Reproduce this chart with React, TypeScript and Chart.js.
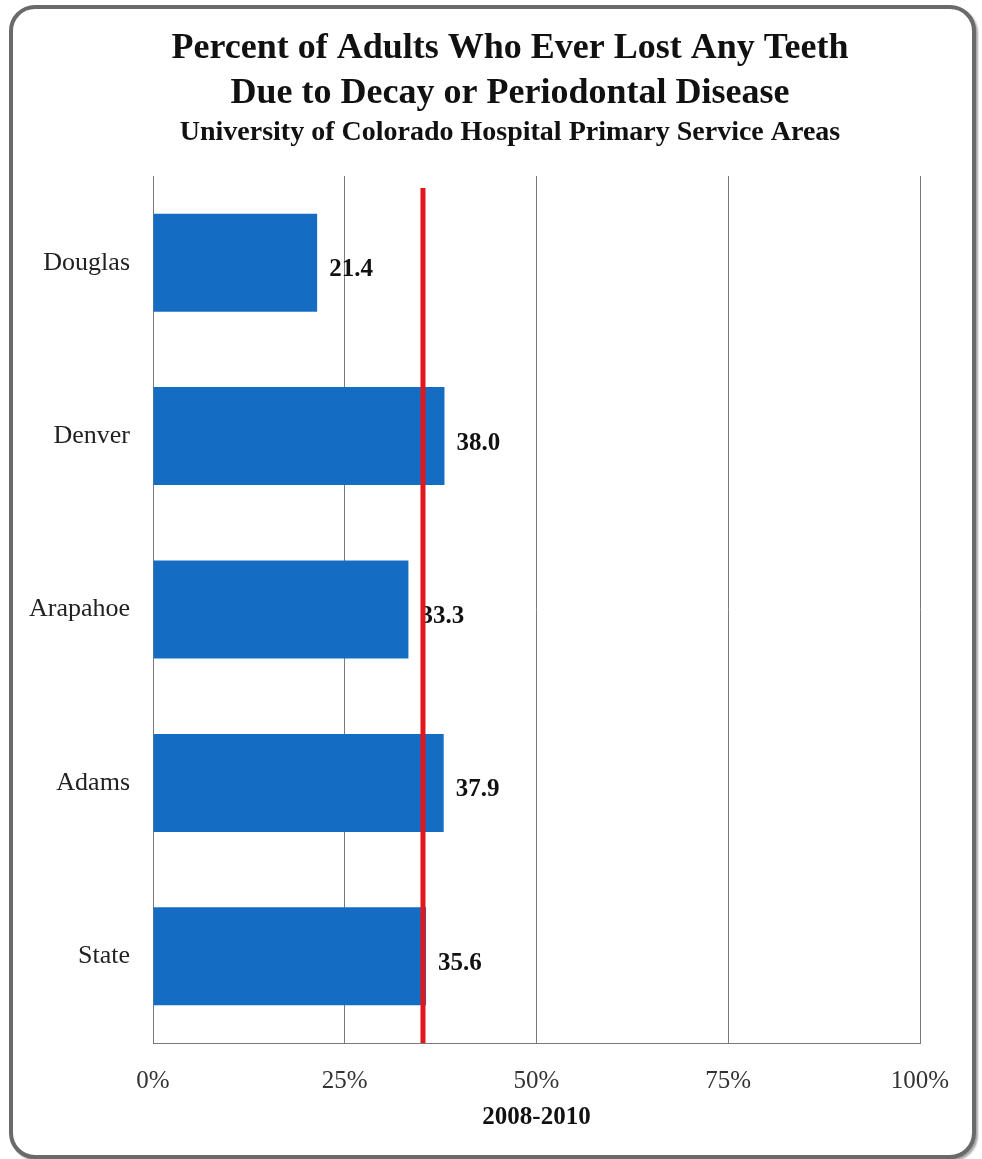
import React, { useEffect, useRef } from "react";
import { Chart, registerables } from "chart.js";

Chart.register(...registerables);

const categories = ["Douglas", "Denver", "Arapahoe", "Adams", "State"];
const values = [21.4, 38.0, 33.3, 37.9, 35.6];
const referenceLineValue = 35.2; // red state reference line
const xTicks = [0, 25, 50, 75, 100];
const titleLines = [
  "Percent of Adults Who Ever Lost Any Teeth",
  "Due to Decay or Periodontal Disease",
];
const subtitleText = "University of Colorado Hospital Primary Service Areas";
const xAxisTitle = "2008-2010";

const FONT = "'Liberation Serif', 'Times New Roman', serif";

const titlePlugin = {
  id: "customTitle",
  afterDraw(chart: any) {
    const ctx = chart.ctx;
    const cx = 510;
    ctx.save();
    ctx.fillStyle = "#111";
    ctx.textAlign = "center";
    ctx.textBaseline = "middle";
    ctx.font = `bold 36px ${FONT}`;
    ctx.fillText(titleLines[0], cx, 48.5);
    ctx.fillText(titleLines[1], cx, 93.5);
    ctx.font = `bold 28px ${FONT}`;
    ctx.fillText(subtitleText, cx, 133);
    ctx.restore();
  },
};

const valueLabelPlugin = {
  id: "valueLabels",
  afterDatasetsDraw(chart: any) {
    const ctx = chart.ctx;
    const meta = chart.getDatasetMeta(0);
    ctx.save();
    ctx.font = `bold 25px ${FONT}`;
    ctx.fillStyle = "#111";
    ctx.textAlign = "left";
    ctx.textBaseline = "middle";
    meta.data.forEach((bar: any, i: number) => {
      ctx.fillText(values[i].toFixed(1), bar.x + 12, bar.y + 7);
    });
    ctx.restore();
  },
};

const refLinePlugin = {
  id: "refLine",
  afterDatasetsDraw(chart: any) {
    const { ctx, chartArea, scales } = chart;
    const x = scales.x.getPixelForValue(referenceLineValue);
    ctx.save();
    ctx.strokeStyle = "#e0171c";
    ctx.lineWidth = 5;
    ctx.beginPath();
    ctx.moveTo(x, chartArea.top + 12);
    ctx.lineTo(x, chartArea.bottom);
    ctx.stroke();
    ctx.restore();
  },
};

export default function App() {
  const ref = useRef<HTMLCanvasElement | null>(null);

  useEffect(() => {
    if (!ref.current) return;
    const chart = new Chart(ref.current, {
      type: "bar",
      data: {
        labels: categories,
        datasets: [
          {
            data: values,
            backgroundColor: "#146cc3",
            borderWidth: 0,
            barPercentage: 0.565,
            categoryPercentage: 1,
          },
        ],
      },
      options: {
        indexAxis: "y",
        animation: false,
        responsive: false,
        layout: { padding: { left: 0, right: 62, top: 176, bottom: 0 } },
        plugins: {
          legend: { display: false },
          tooltip: { enabled: false },
          title: { display: false },
        },
        scales: {
          x: {
            min: 0,
            max: 100,
            afterBuildTicks: (scale: any) => {
              scale.ticks = xTicks.map((v) => ({ value: v }));
            },
            afterFit: (scale: any) => {
              scale.height = 116;
            },
            ticks: {
              color: "#333",
              font: { family: FONT, size: 25 },
              padding: 23,
              callback: (v: any) => `${v}%`,
            },
            grid: { color: "#7a7a7a", lineWidth: 1, drawTicks: false },
            border: { display: true, color: "#7a7a7a", width: 1 },
            title: {
              display: true,
              text: xAxisTitle,
              color: "#111",
              font: { family: FONT, size: 25, weight: "bold", lineHeight: 1.2 },
              padding: { top: 0, bottom: 26 },
            },
          },
          y: {
            afterFit: (scale: any) => {
              scale.width = 153;
            },
            ticks: {
              color: "#222",
              font: { family: FONT, size: 26 },
              padding: 23,
            },
            grid: { display: false, drawTicks: false },
            border: { display: true, color: "#7a7a7a", width: 1 },
          },
        },
      },
      plugins: [valueLabelPlugin, refLinePlugin, titlePlugin],
    });
    return () => chart.destroy();
  }, []);

  return (
    <>
      <div
        style={{
          position: "absolute",
          left: 9,
          top: 5,
          width: 967,
          height: 1154,
          boxSizing: "border-box",
          border: "4px solid #6a6a6a",
          borderRadius: 26,
          boxShadow: "2px 2px 2px rgba(0,0,0,0.35)",
          background: "#fff",
        }}
      />
      <canvas
        ref={ref}
        width={982}
        height={1159}
        style={{ position: "absolute", left: 0, top: 0, width: 982, height: 1159 }}
      />
    </>
  );
}
